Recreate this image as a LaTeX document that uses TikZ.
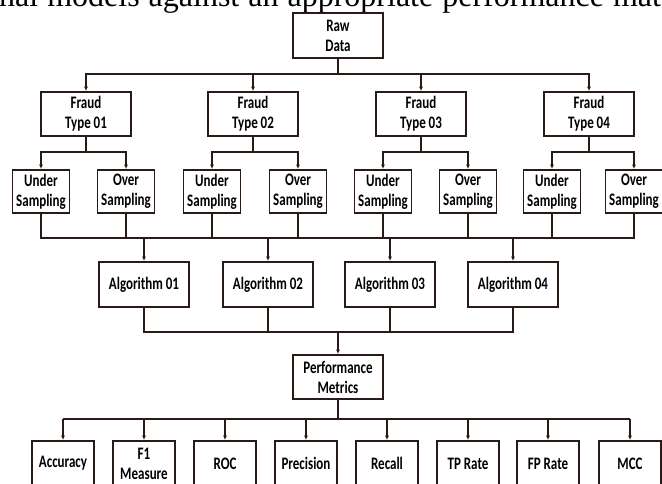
\documentclass[tikz,border=0pt]{standalone}
\usepackage{graphicx}
\usepackage{fontspec}
\setmainfont{Carlito}
\newfontfamily\capfont{Liberation Serif}
\usetikzlibrary{arrows.meta}
\definecolor{ink}{RGB}{40,26,20}
\newcommand\vs[1]{\scalebox{1}[1.35]{#1}}
\begin{document}
\begin{tikzpicture}[x=1pt,y=-1pt,
  box/.style={draw=ink,line width=1.9pt,fill=white,align=center,inner sep=0pt,
    font=\bfseries\fontsize{13}{20}\selectfont,text=black},
  wbox/.style={box,minimum width=90pt,minimum height=44pt},
  sbox/.style={box,minimum width=57pt,minimum height=43pt},
  mbox/.style={box,minimum width=62pt,minimum height=45pt},
  ln/.style={draw=ink,line width=1.9pt},
  arr/.style={ln,-{Latex[length=4.5pt,width=4pt]}}]
\useasboundingbox (0,0) rectangle (662,484);
\fill[white] (0,0) rectangle (662,484);
\begin{scope}
\clip (0,0) rectangle (662,484);
\node[anchor=base west,inner sep=0pt,font=\capfont\fontsize{32}{32}\selectfont] (cap) at (-1,7) {\spaceskip=9pt nal models against an appropriate performance mat};
% nodes
\node[wbox,minimum height=45pt] (raw) at (338,35.5) {\vs{Raw}\\\vs{Data}};
\node[wbox] (f1) at (86,114) {\vs{Fraud}\\\vs{Type 01}};
\node[wbox] (f2) at (253,114) {\vs{Fraud}\\\vs{Type 02}};
\node[wbox] (f3) at (421,114) {\vs{Fraud}\\\vs{Type 03}};
\node[wbox] (f4) at (589,114) {\vs{Fraud}\\\vs{Type 04}};
\node[sbox] (u1) at (41,191.5) {\vs{Under}\\\vs{Sampling}};
\node[sbox] (o1) at (126,191.5) {\vs{Over}\\\vs{Sampling}};
\node[sbox] (u2) at (212,191.5) {\vs{Under}\\\vs{Sampling}};
\node[sbox] (o2) at (298,191.5) {\vs{Over}\\\vs{Sampling}};
\node[sbox] (u3) at (383,191.5) {\vs{Under}\\\vs{Sampling}};
\node[sbox] (o3) at (468,191.5) {\vs{Over}\\\vs{Sampling}};
\node[sbox] (u4) at (552,191.5) {\vs{Under}\\\vs{Sampling}};
\node[sbox] (o4) at (634,191.5) {\vs{Over}\\\vs{Sampling}};
\node[wbox,minimum height=45pt] (a1) at (144,284.5) {\vs{Algorithm 01}};
\node[wbox,minimum height=45pt] (a2) at (268,284.5) {\vs{Algorithm 02}};
\node[wbox,minimum height=45pt] (a3) at (390,284.5) {\vs{Algorithm 03}};
\node[wbox,minimum height=45pt] (a4) at (513,284.5) {\vs{Algorithm 04}};
\node[wbox] (perf) at (338,377) {\vs{Performance}\\\vs{Metrics}};
\node[mbox] (m1) at (63,463.5) {\vs{Accuracy}};
\node[mbox] (m2) at (144,463.5) {\vs{F1}\\\vs{Measure}};
\node[mbox] (m3) at (225,463.5) {\vs{ROC}};
\node[mbox] (m4) at (306,463.5) {\vs{Precision}};
\node[mbox] (m5) at (387,463.5) {\vs{Recall}};
\node[mbox] (m6) at (468,463.5) {\vs{TP Rate}};
\node[mbox] (m7) at (548,463.5) {\vs{FP Rate}};
\node[mbox] (m8) at (630,463.5) {\vs{MCC}};
% buses
\coordinate (rb) at (338,74);
\coordinate (mb) at (0,238);
\coordinate (ab) at (338,332);
\coordinate (pb) at (338,419);
% raw -> fraud
\foreach \f in {f1,f2,f3,f4} \draw[arr] (raw.south) -- (rb) -| (\f.north);
% fraud -> sampling
\foreach \f/\u/\o in {f1/u1/o1,f2/u2/o2,f3/u3/o3,f4/u4/o4}{
  \draw[arr] (\f.south) -- ++(0,15) -| (\u.north);
  \draw[arr] (\f.south) -- ++(0,15) -| (\o.north);
}
% sampling -> algorithms
\draw[ln] (u1.south) -- (u1.south |- mb) -- (o4.south |- mb) -- (o4.south);
\foreach \s in {o1,u2,o2,u3,o3,u4} \draw[ln] (\s.south) -- (\s.south |- mb);
\foreach \a in {a1,a2,a3,a4} \draw[arr] (\a.north |- mb) -- (\a.north);
% algorithms -> performance
\draw[ln] (a1.south) -- (a1.south |- ab) -- (a4.south |- ab) -- (a4.south);
\foreach \a in {a2,a3} \draw[ln] (\a.south) -- (\a.south |- ab);
\draw[arr] (ab) -- (perf.north);
% performance -> metrics
\draw[ln] (perf.south) -- (pb);
\draw[ln] (m1.north |- pb) -- (m8.north |- pb);
\foreach \m in {m1,m2,m3,m4,m5,m6,m7,m8} \draw[arr] (\m.north |- pb) -- (\m.north);
\end{scope}
\end{tikzpicture}
\end{document}
